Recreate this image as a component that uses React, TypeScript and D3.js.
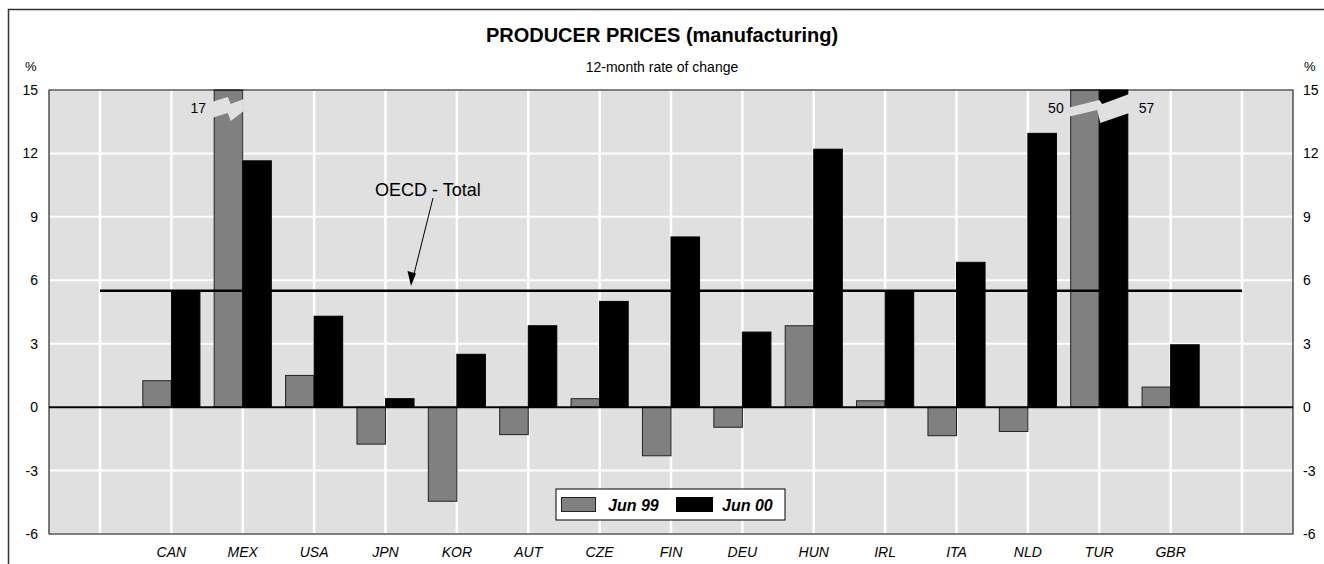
import React from "react";
import * as d3 from "d3";

const categories = ["CAN", "MEX", "USA", "JPN", "KOR", "AUT", "CZE", "FIN", "DEU", "HUN", "IRL", "ITA", "NLD", "TUR", "GBR"];
const jun99 = [1.25, 17, 1.5, -1.75, -4.45, -1.3, 0.4, -2.3, -0.95, 3.85, 0.3, -1.35, -1.15, 50, 0.95];
const jun00 = [5.5, 11.65, 4.3, 0.4, 2.5, 3.85, 5.0, 8.05, 3.55, 12.2, 5.5, 6.85, 12.95, 57, 2.95];
const oecdTotal = 5.5;
const yTicks = [-6, -3, 0, 3, 6, 9, 12, 15];
const seriesNames = ["Jun 99", "Jun 00"];

const W = 1324;
const H = 564;
const plot = { left: 49, right: 1293, top: 90, bottom: 534 };
const FONT = "Arial, 'Liberation Sans', Helvetica, sans-serif";
const BG = "#e0e0e0";
const GRAY = "#808080";

const slots = ["_s", ...categories, "_e"];
const x = d3.scalePoint<string>().domain(slots).range([plot.left, plot.right]).padding(0.7145);
const y = d3.scaleLinear().domain([-6, 15]).range([plot.bottom, plot.top]);
const step = x.step();
const bw = step * 0.4;

// break-mark shapes (offsets from the category centre / axis top)
const mexBreak: [number, number][] = [[-31, 12], [-15, 7], [-12, 14], [1, 9], [1, 21], [-12, 31], [-15, 23], [-31, 28]];
const turBreak: [number, number][] = [[-32, 18], [0, 10], [3, 14], [30, 4], [30, 23], [1, 33], [-2, 20], [-32, 27]];

function breakPath(cx: number, shape: [number, number][]) {
  const top = y(15);
  return d3.line()(shape.map(([dx, dy]) => [cx + dx, top + dy] as [number, number])) + "Z";
}

export default function App() {
  const yMax = 15;
  const bars: JSX.Element[] = [];
  categories.forEach((c, i) => {
    const cx = x(c)!;
    const vals = [jun99[i], jun00[i]];
    vals.forEach((v, k) => {
      const vv = Math.min(v, yMax);
      const x0 = k === 0 ? cx - bw : cx;
      const y0 = y(Math.max(vv, 0));
      const h = Math.abs(y(vv) - y(0));
      bars.push(
        <rect key={c + k} x={x0} y={y0} width={bw} height={h}
          fill={k === 0 ? GRAY : "#000"} stroke={k === 0 ? "#222" : "#000"} strokeWidth={1} />
      );
    });
  });
  const iMex = categories.indexOf("MEX");
  const mx = x("MEX")!;
  const iTur = categories.indexOf("TUR");
  const tx = x("TUR")!;
  const labY = y(15) + 23;

  const oy = y(oecdTotal);
  return (
    <svg width={W} height={H} style={{ position: "absolute", left: 0, top: 0, background: "#fff" }}>
      <path d={`M8.5,${H}V9.5H${W}`} fill="none" stroke="#333" strokeWidth={1.5} />
      <text x={662} y={42} textAnchor="middle" fontSize={20} fontWeight="bold" fontFamily={FONT}>PRODUCER PRICES (manufacturing)</text>
      <text x={662} y={72} textAnchor="middle" fontSize={14} fontFamily={FONT}>12-month rate of change</text>
      <text x={25} y={71} fontSize={13} fontFamily={FONT}>%</text>
      <text x={1304} y={71} fontSize={13} fontFamily={FONT}>%</text>
      <rect x={plot.left} y={plot.top} width={plot.right - plot.left} height={plot.bottom - plot.top} fill={BG} />
      {yTicks.map((t) => (
        <line key={"h" + t} x1={plot.left} x2={plot.right} y1={y(t)} y2={y(t)} stroke="#fff" strokeWidth={2} />
      ))}
      {slots.map((s) => (
        <line key={"v" + s} x1={x(s)!} x2={x(s)!} y1={plot.top} y2={plot.bottom} stroke="#fff" strokeWidth={2.5} />
      ))}
      {bars}
      <path d={breakPath(mx, mexBreak)} fill={BG} />
      <path d={breakPath(tx, turBreak)} fill={BG} />
      <text x={206} y={labY} textAnchor="end" fontSize={14} fontFamily={FONT}>{jun99[iMex]}</text>
      <text x={tx - bw - 7} y={labY} textAnchor="end" fontSize={14} fontFamily={FONT}>{jun99[iTur]}</text>
      <text x={tx + bw + 11} y={labY} textAnchor="start" fontSize={14} fontFamily={FONT}>{jun00[iTur]}</text>
      <line x1={plot.left} x2={plot.right} y1={y(0)} y2={y(0)} stroke="#000" strokeWidth={2} />
      <line x1={x("_s")!} x2={x("_e")!} y1={oy} y2={oy} stroke="#000" strokeWidth={2.5} />
      <rect x={plot.left} y={plot.top} width={plot.right - plot.left} height={plot.bottom - plot.top} fill="none" stroke="#000" strokeWidth={1} />
      {yTicks.map((t) => (
        <g key={"yl" + t} fontSize={14} fontFamily={FONT}>
          <text x={38} y={y(t) + 5} textAnchor="end">{t}</text>
          <text x={1303} y={y(t) + 5} textAnchor="start">{t}</text>
        </g>
      ))}
      {categories.map((c) => (
        <text key={"c" + c} x={x(c)!} y={557} textAnchor="middle" fontSize={14} fontStyle="italic" fontFamily={FONT}>{c}</text>
      ))}
      <text x={375} y={196} fontSize={18} fontFamily={FONT}>OECD - Total</text>
      <line x1={433} y1={198} x2={414} y2={274} stroke="#000" strokeWidth={1} />
      <path d={d3.line()([[411, 286], [407.5, 271], [416, 273.5]])! + "Z"} fill="#000" />
      <g fontFamily={FONT} fontSize={16} fontWeight="bold" fontStyle="italic">
        <rect x={556} y={489} width={229} height={31} fill="#fff" stroke="#000" strokeWidth={1} />
        <rect x={561.5} y={497.5} width={34} height={14} fill={GRAY} stroke="#222" />
        <text x={608} y={511}>{seriesNames[0]}</text>
        <rect x={676.5} y={497.5} width={36} height={14} fill="#000" stroke="#000" />
        <text x={722} y={511}>{seriesNames[1]}</text>
      </g>
    </svg>
  );
}
